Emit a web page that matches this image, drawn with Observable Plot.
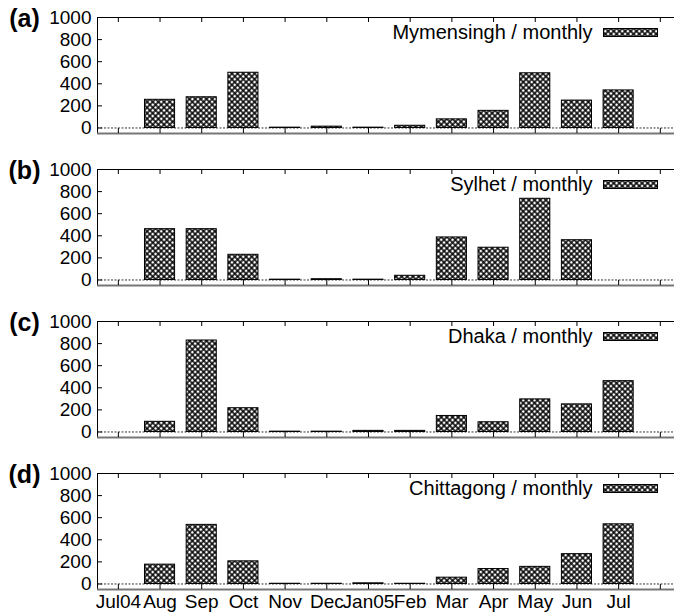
<!DOCTYPE html>
<html>
<head>
<meta charset="utf-8">
<script src="https://cdn.jsdelivr.net/npm/d3@7"></script>
<script src="https://cdn.jsdelivr.net/npm/@observablehq/plot@0.6"></script>
<style>
  html, body { margin: 0; padding: 0; background: #fff; }
  #chart svg { display: block; }
</style>
</head>
<body>
<svg width="0" height="0" style="position:absolute">
  <defs>
    <pattern id="xh" width="4" height="4" patternUnits="userSpaceOnUse" patternTransform="rotate(45)">
      <rect width="4" height="4" fill="#000"></rect>
      <rect x="0.8" y="0.8" width="2.5" height="2.5" fill="#fff"></rect>
    </pattern>
  </defs>
</svg>
<div id="chart"></div>
<script>
const months = ["Jul04","Aug","Sep","Oct","Nov","Dec","Jan05","Feb","Mar","Apr","May","Jun","Jul"];
const yTicks = [0, 200, 400, 600, 800, 1000];
const xTickPositions = [0,1,2,3,4,5,6,7,8,9,10,11,12,13];

const panelLabels = ["(a)", "(b)", "(c)", "(d)"];
const legendLabels = ["Mymensingh / monthly", "Sylhet / monthly", "Dhaka / monthly", "Chittagong / monthly"];

const mymensingh = [null, 255, 278, 500, 3, 12, 3, 20, 78, 155, 495, 248, 340];
const sylhet     = [null, 460, 460, 228, 3, 7, 3, 38, 385, 292, 735, 360, null];
const dhaka      = [null, 92, 828, 215, 3, 3, 10, 10, 145, 88, 295, 250, 460];
const chittagong = [null, 175, 535, 205, 2, 2, 6, 2, 57, 135, 155, 270, 540];

const series = [mymensingh, sylhet, dhaka, chittagong];

const W = 674, ML = 97, MT = 17;

function swatchMark(index, scales, values, dims) {
  const g = document.createElementNS("http://www.w3.org/2000/svg", "g");
  const r = document.createElementNS("http://www.w3.org/2000/svg", "rect");
  r.setAttribute("x", 603.5);
  r.setAttribute("y", dims.marginTop + 11.5);
  r.setAttribute("width", 54);
  r.setAttribute("height", 8);
  r.setAttribute("fill", "url(#xh)");
  r.setAttribute("stroke", "#000");
  g.appendChild(r);
  return g;
}

function panel(k, last) {
  const height = last ? 158 : 152;
  const marginBottom = last ? 25 : 19;
  const data = months.map((m, i) => ({i, v: series[k][i]})).filter(d => d.v != null);
  const frameH = height - MT - marginBottom;
  const frameW = W - ML;
  const marks = [
    Plot.ruleY([0], {stroke: "#333", strokeWidth: 1, strokeDasharray: "2,1.5"}),
    Plot.rectY(data, {x1: d => d.i - 0.5, x2: d => d.i + 0.5, y1: 0, y2: "v",
      insetLeft: 5.8, insetRight: 5.8, fill: "url(#xh)", stroke: "#000", strokeWidth: 1}),
    Plot.ruleY([1000], {stroke: "#000", strokeWidth: 1}),
    Plot.ruleX([-0.5], {stroke: "#000", strokeWidth: 1}),
    Plot.ruleY([-50], {stroke: "#777", strokeWidth: 2}),
    Plot.ruleX(xTickPositions, {x: d => d, insetBottom: frameH - 5, stroke: "#000"}),
    Plot.ruleX(xTickPositions, {x: d => d, insetTop: frameH - 5, stroke: "#000"}),
    Plot.ruleY(yTicks, {y: d => d, insetRight: frameW - 5, stroke: "#000"}),
    Plot.axisY(yTicks, {tickSize: 0, tickPadding: 6, fontSize: 19, label: null, tickFormat: d => String(d)}),
    Plot.text([panelLabels[k]], {frameAnchor: "top-left", dx: -73, dy: 1, fontSize: 25,
      fontWeight: "bold", textAnchor: "middle", lineAnchor: "middle"}),
    Plot.text([legendLabels[k]], {frameAnchor: "top-right", dx: -82, dy: 15, fontSize: 20,
      textAnchor: "end", lineAnchor: "middle"}),
    swatchMark
  ];
  if (last) {
    marks.push(Plot.axisX(months.map((m, i) => i), {tickFormat: i => months[i], tickSize: 0,
      tickPadding: 5, fontSize: 19, label: null}));
  }
  return Plot.plot({
    width: W, height, marginTop: MT, marginBottom, marginLeft: ML, marginRight: 0,
    style: {fontFamily: "'Liberation Sans', Arial, sans-serif", fontSize: "18px", color: "#000", background: "#fff"},
    x: {domain: [-0.5, 13.34], axis: null, label: null},
    y: {domain: [-50, 1000], axis: null, label: null},
    marks
  });
}

const root = document.getElementById("chart");
for (let k = 0; k < 4; k++) root.appendChild(panel(k, k === 3));
</script>
</body>
</html>
